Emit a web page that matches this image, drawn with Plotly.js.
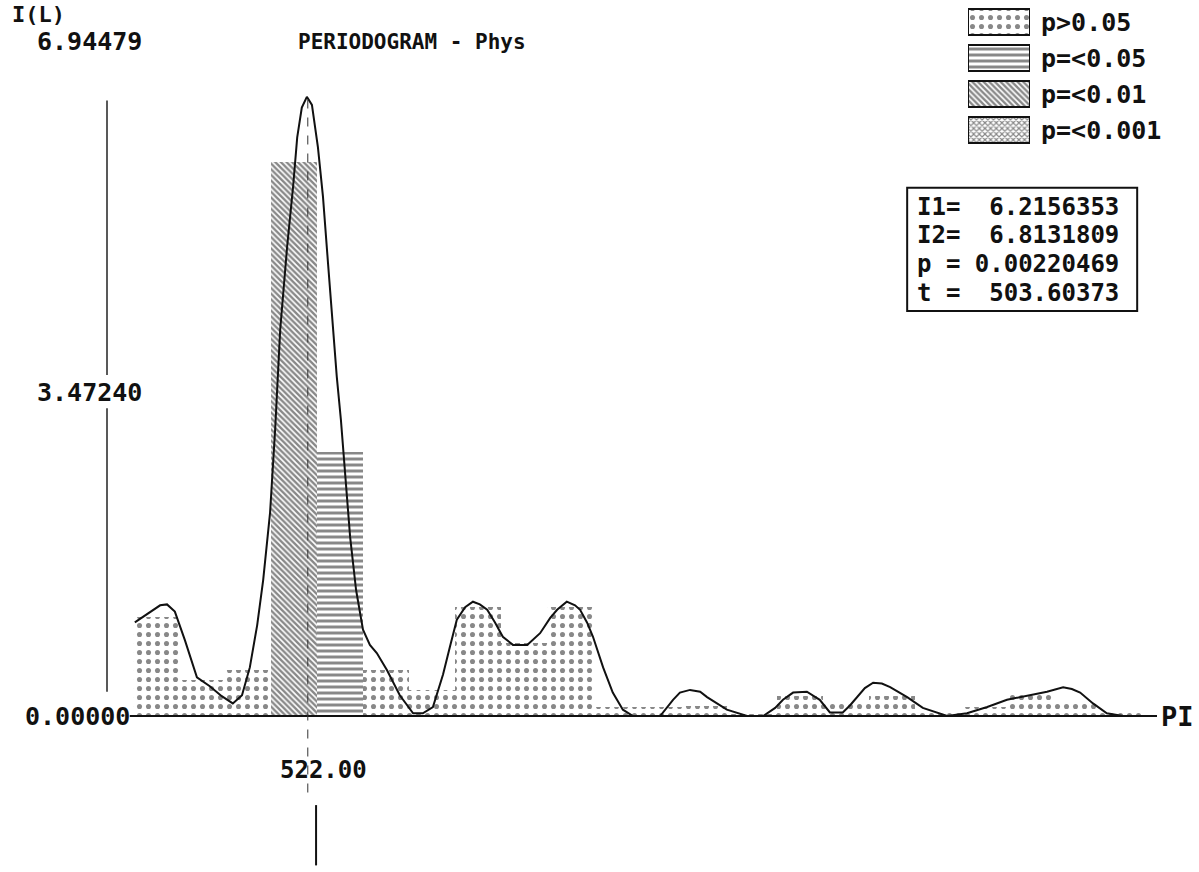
<!DOCTYPE html>
<html>
<head>
<meta charset="utf-8">
<script src="https://cdn.plot.ly/plotly-3.0.1.min.js"></script>
<style>html,body{margin:0;padding:0;background:#fff;}#chart{width:1199px;height:872px;}</style>
</head>
<body>
<div id="chart"></div>
<script>
// ---- DATA (frequency axis in bin units 0..22, PI at the right end) ----
const curveX = [0.04,0.37,0.59,0.74,0.91,1.13,1.39,1.67,1.93,2.17,2.37,2.54,2.70,2.83,2.98,3.09,3.20,3.35,3.48,3.57,3.67,3.78,3.89,4.02,4.13,4.24,4.35,4.43,4.52,4.61,4.72,4.85,5.00,5.15,5.30,5.52,5.80,6.09,6.30,6.52,6.74,6.89,7.04,7.22,7.39,7.54,7.70,7.87,8.04,8.26,8.57,8.85,9.07,9.22,9.43,9.61,9.72,9.87,10.00,10.22,10.43,10.65,10.87,11.46,11.74,11.89,12.11,12.33,12.48,12.91,13.35,13.70,13.96,14.13,14.35,14.65,14.93,15.15,15.43,15.59,15.74,15.91,16.09,16.28,16.46,16.83,17.17,17.70,18.13,18.57,19.00,19.28,19.87,20.22,20.41,20.59,20.87,21.17,21.52,22.26];
const curveY = [1.04,1.16,1.23,1.24,1.16,0.84,0.43,0.33,0.22,0.14,0.23,0.54,1.01,1.51,2.26,3.18,4.29,5.21,5.88,6.43,6.76,6.88,6.79,6.32,5.77,5.03,4.29,3.77,3.29,2.73,1.99,1.40,0.96,0.79,0.70,0.51,0.23,0.03,0.03,0.10,0.46,0.77,1.07,1.21,1.27,1.24,1.18,1.04,0.88,0.79,0.79,0.92,1.09,1.18,1.27,1.23,1.18,1.04,0.88,0.54,0.26,0.07,0.00,0.00,0.18,0.26,0.29,0.27,0.21,0.07,0.00,0.00,0.09,0.18,0.26,0.27,0.18,0.04,0.04,0.12,0.21,0.31,0.37,0.36,0.32,0.21,0.09,0.00,0.03,0.10,0.18,0.21,0.27,0.32,0.30,0.26,0.14,0.03,0.00,0.00];

const binValues = [1.10,0.40,0.51,6.16,2.93,0.51,0.29,1.21,0.81,1.21,0.10,0.10,0.11,0.02,0.22,0.13,0.22,0.04,0.10,0.24,0.18,0.04];
const binClass = ["p>0.05","p>0.05","p>0.05","p=<0.01","p=<0.05","p>0.05","p>0.05","p>0.05","p>0.05","p>0.05","p>0.05","p>0.05","p>0.05","p>0.05","p>0.05","p>0.05","p>0.05","p>0.05","p>0.05","p>0.05","p>0.05","p>0.05"];

const legendLabels = ["p>0.05","p=<0.05","p=<0.01","p=<0.001"];
const tickLabels = ["6.94479","3.47240","0.00000"];
const tickValues = [6.94479,3.47240,0.0];
const peakLabel = "522.00";
const peakX = 3.80;
const titleText = "PERIODOGRAM - Phys";
const yTitle = "I(L)";
const xEndLabel = "PI";
const infoLines = ["I1=\u00a0\u00a06.2156353","I2=\u00a0\u00a06.8131809","p\u00a0=\u00a00.00220469","t\u00a0=\u00a0\u00a0503.60373"];

// ---- STYLES ----
const FONT = "DejaVu Sans Mono";
const patterns = {
  "p>0.05":  {shape:".", size:9, solidity:0.25},
  "p=<0.05": {shape:"-", size:6, solidity:0.5},
  "p=<0.01": {shape:"\\", size:4, solidity:0.6},
  "p=<0.001":{shape:"x", size:4, solidity:0.5}
};

const traces = [];
legendLabels.forEach(cls => {
  const xs = [], ys = [];
  binValues.forEach((v,i) => { if (binClass[i] === cls) { xs.push(i + 0.5); ys.push(v); } });
  if (xs.length) {
    traces.push({type:"bar", x:xs, y:ys, width:1, xaxis:"x", yaxis:"y", showlegend:false,
      marker:{color:"#ffffff", line:{width:0},
        pattern:Object.assign({fgcolor:"#111", bgcolor:"#fff", fillmode:"overlay"}, patterns[cls])},
      hoverinfo:"skip"});
  }
});
traces.push({type:"scatter", mode:"lines", x:curveX, y:curveY, xaxis:"x", yaxis:"y",
  line:{color:"#111", width:2}, showlegend:false, hoverinfo:"skip"});

// legend swatches in a small subplot
traces.push({type:"bar", orientation:"h", x:legendLabels.map(()=>1), y:legendLabels,
  xaxis:"x2", yaxis:"y2", width:0.72, showlegend:false, hoverinfo:"skip",
  marker:{color:"#ffffff", line:{color:"#111", width:2},
    pattern:{shape:legendLabels.map(l=>patterns[l].shape), size:legendLabels.map(l=>patterns[l].size),
      solidity:legendLabels.map(l=>patterns[l].solidity), fgcolor:"#111", bgcolor:"#fff", fillmode:"overlay"}}});

const annotations = [];
const txt = (text, x, y, size, xanchor, extra) => Object.assign({text, x, y, xref:"x", yref:"y",
  showarrow:false, xanchor:xanchor||"left", yanchor:"middle",
  font:{family:FONT, size:size, color:"#111", weight:"bold"}}, extra||{});

annotations.push(txt(yTitle, -2.674, 7.80, 22, "left"));
annotations.push(txt(titleText, 6.065, 7.49, 21, "center"));
const tickShift = [49, 11, 0];
tickLabels.forEach((t,i) => {
  if (i === 2) annotations.push(txt(t, -0.02, tickValues[i], 25, "right"));
  else annotations.push(txt(t, -2.13, tickValues[i], 25, "left", {yshift:tickShift[i]}));
});
annotations.push(txt(peakLabel, peakX - 0.65, -0.60, 24, "left"));
annotations.push(txt(xEndLabel, 22.30, 0.0, 27, "left"));
const infoY = [5.66, 5.34, 5.02, 4.70];
infoLines.forEach((l,i) => annotations.push(txt(l, 17.0, infoY[i], 24, "left")));

const shapes = [
  {type:"line", xref:"x", yref:"y", x0:-0.07, x1:22.26, y0:0, y1:0, line:{color:"#111", width:2}},
  {type:"line", xref:"x", yref:"y", x0:-0.565, x1:-0.565, y0:0.27, y1:3.42, line:{color:"#222", width:1.5}},
  {type:"line", xref:"x", yref:"y", x0:-0.565, x1:-0.565, y0:3.79, y1:6.84, line:{color:"#222", width:1.5}},
  {type:"line", xref:"x", yref:"y", x0:peakX, x1:peakX, y0:6.85, y1:-0.93, line:{color:"#333", width:1, dash:"dash"}},
  {type:"line", xref:"x", yref:"y", x0:3.98, x1:3.98, y0:-0.99, y1:-1.66, line:{color:"#111", width:2}},
  {type:"rect", xref:"x", yref:"y", x0:16.83, x1:21.83, y0:4.50, y1:5.87, line:{color:"#111", width:2}, fillcolor:"rgba(0,0,0,0)"}
];

const layout = {
  width:1199, height:872, margin:{l:0, r:0, t:0, b:0},
  paper_bgcolor:"#fff", plot_bgcolor:"rgba(0,0,0,0)",
  showlegend:false, barmode:"overlay", bargap:0,
  xaxis:{range:[-2.891, 23.174], visible:false, domain:[0,1]},
  yaxis:{range:[-1.7333, 7.9556], visible:false, domain:[0,1]},
  xaxis2:{domain:[968/1199, 1030/1199], range:[0,1], visible:false, anchor:"y2", fixedrange:true},
  yaxis2:{domain:[(872-148)/872, (872-4)/872], anchor:"x2", type:"category",
    categoryorder:"array", categoryarray:legendLabels, autorange:"reversed",
    side:"right", showline:false, showgrid:false, zeroline:false, ticks:"",
    ticklabelstandoff:10,
    tickfont:{family:FONT, size:25, color:"#111", weight:"bold"}},
  annotations, shapes
};

Plotly.newPlot("chart", traces, layout, {displayModeBar:false, staticPlot:true});
</script>
</body>
</html>
